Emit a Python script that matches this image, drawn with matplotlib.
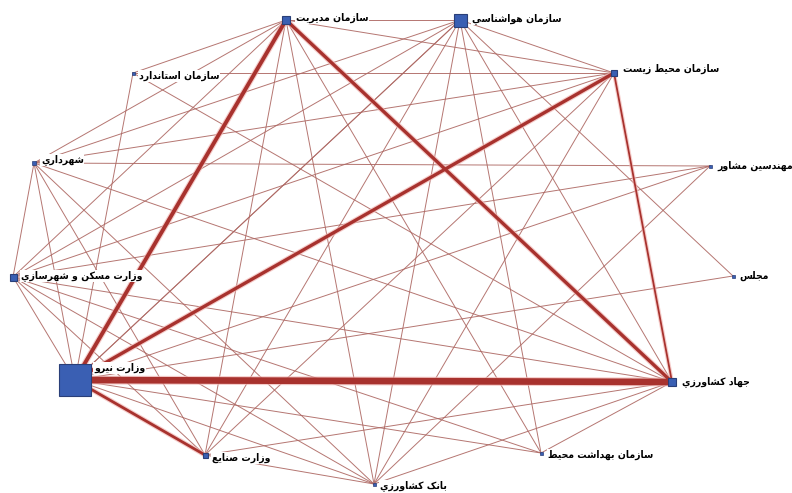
import matplotlib
matplotlib.use("Agg")
import matplotlib.pyplot as plt
from matplotlib import font_manager

# ---------------- data ----------------
node_names = ["وزارت نیرو", "سازمان مدیریت", "سازمان هواشناسي", "سازمان محیط زیست",
              "مهندسین مشاور", "مجلس", "جهاد کشاورزي", "سازمان بهداشت محیط",
              "بانک کشاورزي", "وزارت صنایع", "وزارت مسکن و شهرسازي", "شهرداري",
              "سازمان استاندارد"]
node_keys = ["A", "B", "C", "D", "E", "F", "G", "H", "I", "J", "K", "L", "M"]

edge_src = ["A", "A", "A", "B", "A", "D",
            "A", "A", "A", "A", "A", "A", "A", "A",
            "B", "B", "B", "B", "B", "B", "B", "B",
            "C", "C", "C", "C", "C", "C", "C", "C", "C",
            "D", "D", "D", "D", "D",
            "E", "E", "E",
            "G", "G", "G", "G", "G", "G",
            "I", "I", "I", "J", "J", "K", "H"]
edge_dst = ["G", "B", "D", "G", "J", "G",
            "C", "E", "F", "H", "I", "K", "L", "M",
            "C", "D", "M", "K", "L", "J", "I", "H",
            "D", "F", "G", "H", "I", "J", "K", "L", "A",
            "L", "K", "J", "I", "M",
            "L", "K", "I",
            "K", "L", "M", "J", "I", "H",
            "K", "L", "J", "K", "L", "L", "K"]
edge_weight = [6, 3.5, 3, 3, 2.5, 1.6,
               1, 1, 1, 1, 1, 1, 1, 1,
               1, 1, 1, 1, 1, 1, 1, 1,
               1, 1, 1, 1, 1, 1, 1, 1, 1,
               1, 1, 1, 1, 1,
               1, 1, 1,
               1, 1, 1, 1, 1, 1,
               1, 1, 1, 1, 1, 1, 1]

# ---------------- layout / style ----------------
layout_x = {"A": 75, "B": 286, "C": 460, "D": 614, "E": 710, "F": 733, "G": 672,
            "H": 541, "I": 374, "J": 205, "K": 13, "L": 34, "M": 133}
layout_y = {"A": 380, "B": 20, "C": 20, "D": 73, "E": 166, "F": 276, "G": 382,
            "H": 453, "I": 484, "J": 455, "K": 277, "L": 163, "M": 73}
node_px = {"A": 32, "B": 8, "C": 13, "D": 6, "E": 3, "F": 3, "G": 8,
           "H": 3, "I": 3, "J": 5, "K": 7, "L": 4, "M": 3}
label_off = {"A": (19, -12), "B": (10, -2), "C": (12, -1), "D": (9, -4), "E": (7, 0),
             "F": (6, 0), "G": (10, 0), "H": (7, 2), "I": (6, 2), "J": (7, 3),
             "K": (8, -1), "L": (7, -3), "M": (6, 3)}

# ---------------- minimal Arabic shaping ----------------
FORMS = {
    "ا": ("\uFE8D", "\uFE8E", None, None),
    "ب": ("\uFE8F", "\uFE90", "\uFE91", "\uFE92"),
    "ت": ("\uFE95", "\uFE96", "\uFE97", "\uFE98"),
    "ج": ("\uFE9D", "\uFE9E", "\uFE9F", "\uFEA0"),
    "ح": ("\uFEA1", "\uFEA2", "\uFEA3", "\uFEA4"),
    "د": ("\uFEA9", "\uFEAA", None, None),
    "ر": ("\uFEAD", "\uFEAE", None, None),
    "ز": ("\uFEAF", "\uFEB0", None, None),
    "س": ("\uFEB1", "\uFEB2", "\uFEB3", "\uFEB4"),
    "ش": ("\uFEB5", "\uFEB6", "\uFEB7", "\uFEB8"),
    "ص": ("\uFEB9", "\uFEBA", "\uFEBB", "\uFEBC"),
    "ط": ("\uFEC1", "\uFEC2", "\uFEC3", "\uFEC4"),
    "ع": ("\uFEC9", "\uFECA", "\uFECB", "\uFECC"),
    "ک": ("\uFB8E", "\uFB8F", "\uFB90", "\uFB91"),
    "ل": ("\uFEDD", "\uFEDE", "\uFEDF", "\uFEE0"),
    "م": ("\uFEE1", "\uFEE2", "\uFEE3", "\uFEE4"),
    "ن": ("\uFEE5", "\uFEE6", "\uFEE7", "\uFEE8"),
    "ه": ("\uFEE9", "\uFEEA", "\uFEEB", "\uFEEC"),
    "و": ("\uFEED", "\uFEEE", None, None),
    "ی": ("\uFBFC", "\uFBFD", "\uFBFE", "\uFBFF"),
    "ي": ("\uFEF1", "\uFEF2", "\uFEF3", "\uFEF4"),
}


def dual(ch):
    return ch in FORMS and FORMS[ch][2] is not None


def shape(text):
    out = []
    for i, ch in enumerate(text):
        if ch not in FORMS:
            out.append(ch)
            continue
        prev = text[i - 1] if i > 0 else ""
        nxt = text[i + 1] if i + 1 < len(text) else ""
        jp = dual(prev)
        jn = dual(ch) and nxt in FORMS
        iso, fin, ini, med = FORMS[ch]
        if jp and jn:
            out.append(med)
        elif jp:
            out.append(fin)
        elif jn:
            out.append(ini)
        else:
            out.append(iso)
    return "".join(out)[::-1]


# prefer a condensed bold DejaVu if installed
label_font = None
for f in font_manager.fontManager.ttflist:
    if f.name == "DejaVu Sans" and "Condensed" in f.fname and "Bold" in f.fname \
            and "Oblique" not in f.fname:
        label_font = font_manager.FontProperties(fname=f.fname, size=7.5)
        break
if label_font is None:
    label_font = font_manager.FontProperties(family="DejaVu Sans", weight="bold", size=6.5)

# ---------------- plot ----------------
W, H = 792, 493
fig = plt.figure(figsize=(W / 100, H / 100), dpi=100)
ax = fig.add_axes([0, 0, 1, 1])
ax.set_xlim(0, W)
ax.set_ylim(H, 0)
ax.axis("off")

for s, d, w in sorted(zip(edge_src, edge_dst, edge_weight), key=lambda t: t[2]):
    xs = [layout_x[s], layout_x[d]]
    ys = [layout_y[s], layout_y[d]]
    if w > 1:
        ax.plot(xs, ys, color="#f2b8b5", lw=w * 0.8 + 1.6, alpha=0.7,
                solid_capstyle="butt", zorder=1)
        ax.plot(xs, ys, color="#a8322e", lw=w * 0.8, solid_capstyle="butt", zorder=2)
    else:
        ax.plot(xs, ys, color="#ad6762", lw=0.7, alpha=0.9, zorder=1)

for k, name in zip(node_keys, node_names):
    ms = node_px[k] * 72 / 100
    ax.plot(layout_x[k], layout_y[k], marker="s", ms=ms, color="#3a5fb3",
            mec="#2a3f78", mew=0.8 if node_px[k] > 4 else 0.5, zorder=5, ls="none")
    dx, dy = label_off[k]
    ax.text(layout_x[k] + dx, layout_y[k] + dy, shape(name), ha="left", va="center",
            fontproperties=label_font, color="black",
            bbox=dict(boxstyle="square,pad=0.05", fc="white", ec="none"), zorder=6)

fig.savefig("out.png", dpi=100)
